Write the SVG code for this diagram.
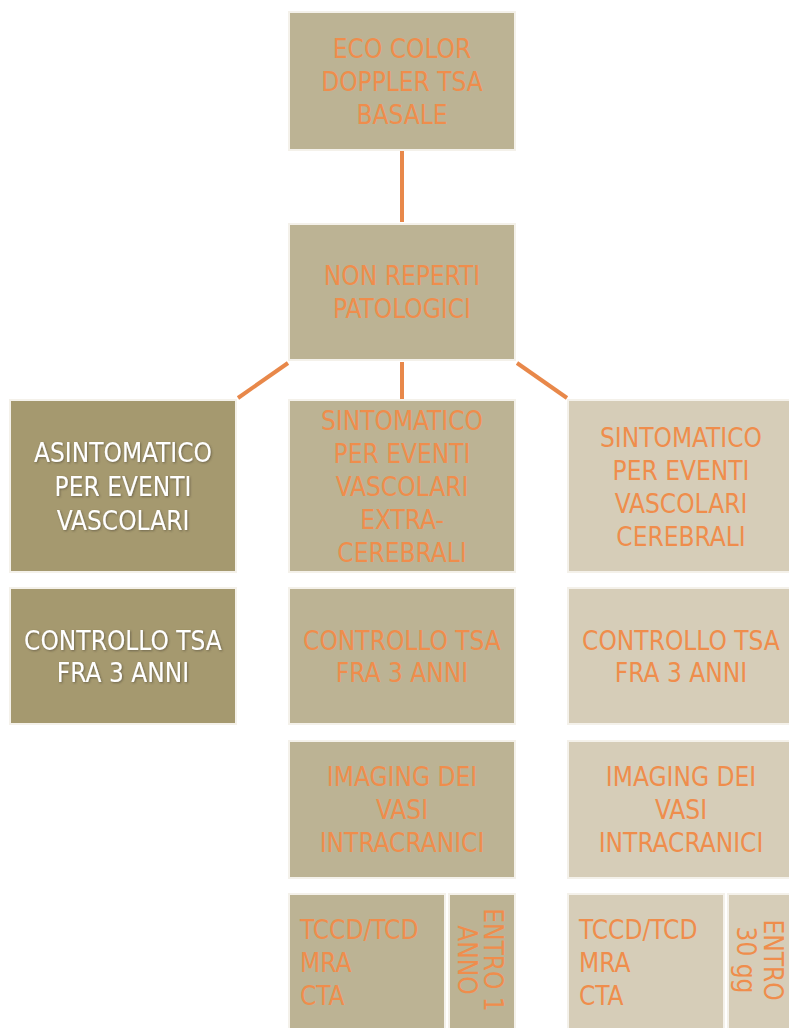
<svg xmlns="http://www.w3.org/2000/svg" width="789" height="1028" viewBox="0 0 789 1028">
  <defs>
    <style>
      .box { stroke: #f4f1ea; stroke-width: 2; }
      .mid { fill: #bcb394; }
      .dark { fill: #a5996f; }
      .light { fill: #d6cdb8; }
      .t { font-family: "DejaVu Sans Condensed", "DejaVu Sans", sans-serif; font-stretch: condensed; font-size: 26px; text-anchor: middle; }
      .or { fill: #ef8d4c; }
      .wh { fill: #ffffff; filter: url(#sh); }
      .lft { text-anchor: start; }
      .link { stroke: #e8884a; stroke-width: 4; fill: none; }
    </style>
    <filter id="sh" x="-10%" y="-20%" width="120%" height="140%">
      <feDropShadow dx="1" dy="1" stdDeviation="0.8" flood-color="#4a4330" flood-opacity="0.6"/>
    </filter>
  </defs>
  <rect width="789" height="1028" fill="#ffffff"/>

  <!-- connectors -->
  <g id="connectors">
    <line class="link" x1="402" y1="150" x2="402" y2="222"/>
    <line class="link" x1="288" y1="363" x2="238" y2="398"/>
    <line class="link" x1="402" y1="362" x2="402" y2="399"/>
    <line class="link" x1="517" y1="363" x2="567" y2="398"/>
  </g>

  <g id="n-basale">
    <rect class="box mid" x="289" y="12" width="226" height="138"/>
    <text class="t or" x="402" y="58">ECO COLOR</text>
    <text class="t or" x="402" y="91">DOPPLER TSA</text>
    <text class="t or" x="402" y="124">BASALE</text>
  </g>

  <g id="n-nonreperti">
    <rect class="box mid" x="289" y="224" width="226" height="136"/>
    <text class="t or" x="402" y="285">NON REPERTI</text>
    <text class="t or" x="402" y="318">PATOLOGICI</text>
  </g>

  <!-- left branch -->
  <g id="n-asintomatico">
    <rect class="box dark" x="10" y="400" width="226" height="172"/>
    <text class="t wh" x="123" y="462">ASINTOMATICO</text>
    <text class="t wh" x="123" y="496">PER EVENTI</text>
    <text class="t wh" x="123" y="530">VASCOLARI</text>
  </g>
  <g id="n-controllo-left">
    <rect class="box dark" x="10" y="588" width="226" height="136"/>
    <text class="t wh" x="123" y="650">CONTROLLO TSA</text>
    <text class="t wh" x="123" y="682">FRA 3 ANNI</text>
  </g>

  <!-- middle branch -->
  <g id="n-extracerebrali">
    <rect class="box mid" x="289" y="400" width="226" height="172"/>
    <text class="t or" x="402" y="430">SINTOMATICO</text>
    <text class="t or" x="402" y="463">PER EVENTI</text>
    <text class="t or" x="402" y="496">VASCOLARI</text>
    <text class="t or" x="402" y="529">EXTRA-</text>
    <text class="t or" x="402" y="562">CEREBRALI</text>
  </g>
  <g id="n-controllo-mid">
    <rect class="box mid" x="289" y="588" width="226" height="136"/>
    <text class="t or" x="402" y="650">CONTROLLO TSA</text>
    <text class="t or" x="402" y="682">FRA 3 ANNI</text>
  </g>
  <g id="n-imaging-mid">
    <rect class="box mid" x="289" y="741" width="226" height="137"/>
    <text class="t or" x="402" y="786">IMAGING DEI</text>
    <text class="t or" x="402" y="819">VASI</text>
    <text class="t or" x="402" y="852">INTRACRANICI</text>
  </g>
  <g id="n-esami-mid">
    <rect class="box mid" x="289" y="894" width="156" height="140"/>
    <text class="t or lft" x="300" y="939">TCCD/TCD</text>
    <text class="t or lft" x="300" y="972">MRA</text>
    <text class="t or lft" x="300" y="1005">CTA</text>
  </g>
  <g id="n-tempo-mid">
    <rect class="box mid" x="449" y="894" width="66" height="140"/>
    <text class="t or" transform="translate(484,960) rotate(90)">ENTRO 1</text>
    <text class="t or" transform="translate(458,960) rotate(90)">ANNO</text>
  </g>

  <!-- right branch -->
  <g id="n-cerebrali">
    <rect class="box light" x="568" y="400" width="226" height="172"/>
    <text class="t or" x="681" y="447">SINTOMATICO</text>
    <text class="t or" x="681" y="480">PER EVENTI</text>
    <text class="t or" x="681" y="513">VASCOLARI</text>
    <text class="t or" x="681" y="546">CEREBRALI</text>
  </g>
  <g id="n-controllo-right">
    <rect class="box light" x="568" y="588" width="226" height="136"/>
    <text class="t or" x="681" y="650">CONTROLLO TSA</text>
    <text class="t or" x="681" y="682">FRA 3 ANNI</text>
  </g>
  <g id="n-imaging-right">
    <rect class="box light" x="568" y="741" width="226" height="137"/>
    <text class="t or" x="681" y="786">IMAGING DEI</text>
    <text class="t or" x="681" y="819">VASI</text>
    <text class="t or" x="681" y="852">INTRACRANICI</text>
  </g>
  <g id="n-esami-right">
    <rect class="box light" x="568" y="894" width="156" height="140"/>
    <text class="t or lft" x="579" y="939">TCCD/TCD</text>
    <text class="t or lft" x="579" y="972">MRA</text>
    <text class="t or lft" x="579" y="1005">CTA</text>
  </g>
  <g id="n-tempo-right">
    <rect class="box light" x="728" y="894" width="66" height="140"/>
    <text class="t or" transform="translate(764,960) rotate(90)">ENTRO</text>
    <text class="t or" transform="translate(737,960) rotate(90)">30 gg</text>
  </g>
</svg>
